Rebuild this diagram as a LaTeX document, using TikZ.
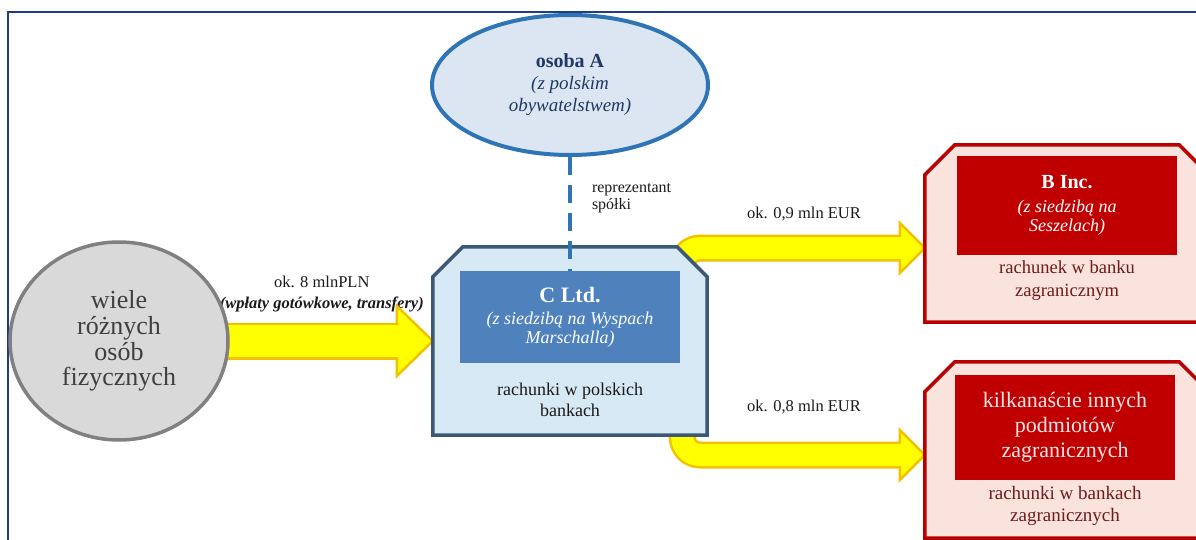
\documentclass[tikz,border=0pt]{standalone}
\usepackage{fontspec}
\setmainfont{Liberation Serif}
\usepackage{tikz}
\usetikzlibrary{shapes.geometric, calc}
\pgfdeclarelayer{bg}
\pgfsetlayers{bg,main}

\begin{document}
\begin{tikzpicture}[x=1pt, y=-1pt,
  every node/.style={inner sep=0pt, align=center},
  personnode/.style={ellipse, fill=personfill, draw=personline, line width=4pt,
    minimum width=276pt, minimum height=140pt, text=persontext,
    font=\fontsize{19}{22}\selectfont},
  crowdnode/.style={ellipse, fill=crowdfill, draw=crowdline, line width=3.5pt,
    minimum width=218pt, minimum height=198pt, text=crowdtext,
    font=\fontsize{26}{25.7}\selectfont},
  outerbox/.style={rectangle},
  outerline/.style={line width=3.5pt, line join=miter},
  innerbox/.style={rectangle, minimum width=220pt},
  flowband/.style={draw=flowgold, line width=2.5pt, double=flowyellow, double distance=#1},
  flowhead/.style={fill=flowyellow, draw=flowgold, line width=2.5pt, line join=miter},
  flowlabel/.style={text=labeltext, font=\fontsize{16.5}{21}\selectfont},
  repline/.style={draw=personline, line width=4pt, dash pattern=on 18pt off 10pt}
]
% --- KOLORY ---
\definecolor{ramka}{HTML}{1F3C88}
\definecolor{personfill}{HTML}{DCE6F2}
\definecolor{personline}{HTML}{2F75B5}
\definecolor{persontext}{HTML}{1F3864}
\definecolor{crowdfill}{HTML}{D9D9D9}
\definecolor{crowdline}{HTML}{808080}
\definecolor{crowdtext}{HTML}{3F3F3F}
\definecolor{cfill}{HTML}{D7E9F4}
\definecolor{cline}{HTML}{3B5875}
\definecolor{cinner}{HTML}{4F81BD}
\definecolor{bfill}{HTML}{FAE3DD}
\definecolor{bline}{HTML}{B80000}
\definecolor{binner}{HTML}{C00000}
\definecolor{btext}{HTML}{6E1B1B}
\definecolor{otext}{HTML}{F6E6E6}
\definecolor{flowyellow}{HTML}{FFFF00}
\definecolor{flowgold}{HTML}{F2C200}
\definecolor{labeltext}{HTML}{1A1A1A}

\useasboundingbox (0,0) rectangle (1196,540);

% WARSTWA 1: ramka
\draw[ramka, line width=2.5pt] (8,540) -- (8,12) -- (1196,12);

% WARSTWA 2: osoby
\node[personnode] (osobaA) at (570,85)
  {{\fontsize{20}{22}\selectfont\bfseries osoba A}\\
   \textit{(z polskim}\\ \textit{obywatelstwem)}};
\node[crowdnode] (crowd) at (119,341) {wiele\\różnych\\osób\\fizycznych};

% WARSTWA 3: spółki i rachunki (ścięte narożniki)
\node[outerbox, minimum width=274pt, minimum height=188pt] (cbox) at (570,341) {};
\filldraw[outerline, fill=cfill, draw=cline] (cbox.south west) -- ($(cbox.north west)+(0,30)$) -- ($(cbox.north west)+(30,0)$)
  -- ($(cbox.north east)+(-30,0)$) -- ($(cbox.north east)+(0,30)$) -- (cbox.south east) -- cycle;
\node[innerbox, fill=cinner, minimum height=92pt, text=white, font=\fontsize{18}{19}\selectfont] (cltd) at (570,317)
  {{\fontsize{22}{20}\selectfont\bfseries C Ltd.}\\[3pt] \textit{(z siedzibą na Wyspach}\\ \textit{Marschalla)}};
\node[text=labeltext, font=\fontsize{18}{21}\selectfont] (cacct) at (570,400) {rachunki w polskich\\bankach};

\node[outerbox, minimum width=284pt, minimum height=177pt] (bbox) at (1067,233.5) {};
\filldraw[outerline, fill=bfill, draw=bline] (bbox.south west) -- ($(bbox.north west)+(0,30)$) -- ($(bbox.north west)+(30,0)$)
  -- ($(bbox.north east)+(-30,0)$) -- ($(bbox.north east)+(0,30)$) -- (bbox.south east) -- cycle;
\node[innerbox, fill=binner, minimum height=99pt, text=white, font=\fontsize{18}{19}\selectfont] (binc) at (1067,205.5)
  {{\fontsize{20}{20}\selectfont\bfseries B Inc.}\\[5pt] \textit{(z siedzibą na}\\ \textit{Seszelach)}};
\node[text=btext, font=\fontsize{18.5}{23}\selectfont] (bacct) at (1067,281) {rachunek w banku\\zagranicznym};

\node[outerbox, minimum width=284pt, minimum height=176pt] (obox) at (1067,450) {};
\filldraw[outerline, fill=bfill, draw=bline] (obox.south west) -- ($(obox.north west)+(0,30)$) -- ($(obox.north west)+(30,0)$)
  -- ($(obox.north east)+(-30,0)$) -- ($(obox.north east)+(0,30)$) -- (obox.south east) -- cycle;
\node[innerbox, fill=binner, minimum height=105pt, text=otext, font=\fontsize{22}{25}\selectfont] (oinner) at (1065,427.5)
  {kilkanaście innych\\podmiotów\\zagranicznych};
\node[text=btext, font=\fontsize{19}{22}\selectfont] (oacct) at (1065,506) {rachunki w bankach\\zagranicznych};

% WARSTWA 4: reprezentacja
\draw[repline] (osobaA.south) -- (cltd.north)
  node[pos=.36, right=20pt, text=labeltext, align=left, font=\fontsize{16}{17}\selectfont] (rep) {reprezentant\\spółki};

% WARSTWA 0: przepływy (pod spodem)
\begin{pgfonlayer}{bg}
\coordinate (f1b) at ($(cbox.west)+(-36,0)$);
\draw[flowband=32pt] (crowd.center) -- (f1b)
  node[flowlabel, pos=.73, above=28pt] (lab1) {ok. 8 mlnPLN\\ {\bfseries\itshape (wpłaty gotówkowe, transfery)}};
\filldraw[flowhead] ($(f1b)+(0,-16)$) -- ($(f1b)+(0,-35)$) -- (cbox.west) -- ($(f1b)+(0,35)$) -- ($(f1b)+(0,16)$);

\coordinate (f2a) at ($(cbox.east)+(-25,-30)$);
\coordinate (f2t) at ($(bbox.west)+(0,14.5)$);
\coordinate (f2b) at ($(f2t)+(-25,0)$);
\draw[flowband=22pt, rounded corners=18pt] (f2a) |- (f2b)
  node[flowlabel, pos=.78, above=26pt] (lab2) {ok. 0,9 mln EUR};
\filldraw[flowhead] ($(f2b)+(0,-11)$) -- ($(f2b)+(0,-25)$) -- (f2t) -- ($(f2b)+(0,25)$) -- ($(f2b)+(0,11)$);

\coordinate (f3a) at ($(cbox.east)+(-25,30)$);
\coordinate (f3t) at ($(obox.west)+(0,5)$);
\coordinate (f3b) at ($(f3t)+(-25,0)$);
\draw[flowband=22pt, rounded corners=18pt] (f3a) |- (f3b)
  node[flowlabel, pos=.78, above=39.5pt] (lab3) {ok. 0,8 mln EUR};
\filldraw[flowhead] ($(f3b)+(0,-11)$) -- ($(f3b)+(0,-25)$) -- (f3t) -- ($(f3b)+(0,25)$) -- ($(f3b)+(0,11)$);
\end{pgfonlayer}
\end{tikzpicture}
\end{document}
